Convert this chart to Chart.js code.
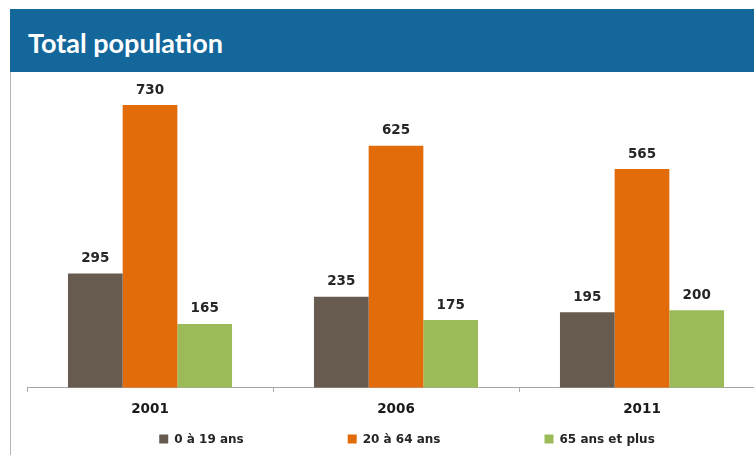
<!DOCTYPE html>
<html>
<head>
<meta charset="utf-8">
<script src="https://cdn.jsdelivr.net/npm/chart.js@4.4.1/dist/chart.umd.min.js"></script>
<style>
  html, body { margin: 0; padding: 0; background: #ffffff; overflow: hidden; }
  body { width: 754px; height: 455px; position: relative; }
  #header {
    position: absolute; left: 10px; top: 9px; width: 744px; height: 63px;
    background: #13679a;
  }
  #header span {
    position: absolute; left: 18px; top: 20px;
    font-family: Lato, "Open Sans", sans-serif; font-weight: 700; font-size: 27px;
    color: #ffffff; line-height: 1; white-space: nowrap;
  }
  #frame {
    position: absolute; left: 10px; top: 72px; width: 1px; height: 383px;
    background: #b4b4b4;
  }
  #wrap { position: absolute; left: 11px; top: 72px; width: 770px; height: 383px; }
</style>
</head>
<body>
<div id="header"><span>Total population</span></div>
<div id="frame"></div>
<div id="wrap"><canvas id="chart"></canvas></div>
<script>
// Census years and population by age group
const years = ['2001', '2006', '2011'];
const seriesNames = ['0 à 19 ans', '20 à 64 ans', '65 ans et plus'];
const young = [295, 235, 195];
const working = [730, 625, 565];
const senior = [165, 175, 200];
const seriesColors = ['#675a4f', '#e36c0a', '#9bbb59'];

const labelFont = 'bold 13.5px "DejaVu Sans", Verdana, sans-serif';
const legendFont = 'bold 12px "DejaVu Sans", Verdana, sans-serif';

// Writes each bar's value just above it
const valueLabels = {
  id: 'valueLabels',
  afterDatasetsDraw(chart) {
    const ctx = chart.ctx;
    ctx.save();
    ctx.font = labelFont;
    ctx.fillStyle = '#262626';
    ctx.textAlign = 'center';
    ctx.textBaseline = 'middle';
    chart.data.datasets.forEach((ds, i) => {
      chart.getDatasetMeta(i).data.forEach((bar, j) => {
        ctx.fillText(String(ds.data[j]), bar.x, bar.y - 15);
      });
    });
    ctx.restore();
  }
};

// Single-row legend under the axis, with wide spacing between entries
const wideLegend = {
  id: 'wideLegend',
  afterDraw(chart, args, opts) {
    const ctx = chart.ctx;
    ctx.save();
    ctx.font = legendFont;
    ctx.textBaseline = 'middle';
    ctx.textAlign = 'left';
    const box = 9, gap = 6, spacing = opts.spacing;
    const items = chart.data.datasets.map(ds => ({
      text: ds.label, color: ds.backgroundColor,
      w: box + gap + ctx.measureText(ds.label).width
    }));
    const total = items.reduce((s, it) => s + it.w, 0) + spacing * (items.length - 1);
    let x = opts.centerX - total / 2;
    const y = opts.y;
    items.forEach(it => {
      ctx.fillStyle = it.color;
      ctx.fillRect(x, y - box / 2, box, box);
      ctx.fillStyle = '#262626';
      ctx.fillText(it.text, x + box + gap, y + 0.5);
      x += it.w + spacing;
    });
    ctx.restore();
  }
};

const gridColor = '#a6a6a6';

new Chart(document.getElementById('chart'), {
  type: 'bar',
  data: {
    labels: years,
    datasets: [
      { label: seriesNames[0], data: young, backgroundColor: seriesColors[0] },
      { label: seriesNames[1], data: working, backgroundColor: seriesColors[1] },
      { label: seriesNames[2], data: senior, backgroundColor: seriesColors[2] }
    ]
  },
  options: {
    responsive: true,
    maintainAspectRatio: false,
    animation: false,
    events: [],
    layout: { padding: { top: 6, left: 16, right: 16, bottom: 27 } },
    datasets: { bar: { categoryPercentage: 0.667, barPercentage: 1.0, borderWidth: 0 } },
    scales: {
      x: {
        grid: { display: true, drawOnChartArea: false, drawTicks: true, tickLength: 4, color: gridColor, offset: true },
        border: { display: true, color: gridColor, width: 1 },
        ticks: { color: '#1a1a1a', padding: 10, font: { family: '"DejaVu Sans", Verdana, sans-serif', size: 13.5, weight: 'bold' } }
      },
      y: { display: false, min: 0, max: 800 }
    },
    plugins: {
      legend: { display: false },
      tooltip: { enabled: false },
      wideLegend: { centerX: 396, y: 367, spacing: 104 }
    }
  },
  plugins: [valueLabels, wideLegend]
});
</script>
</body>
</html>
